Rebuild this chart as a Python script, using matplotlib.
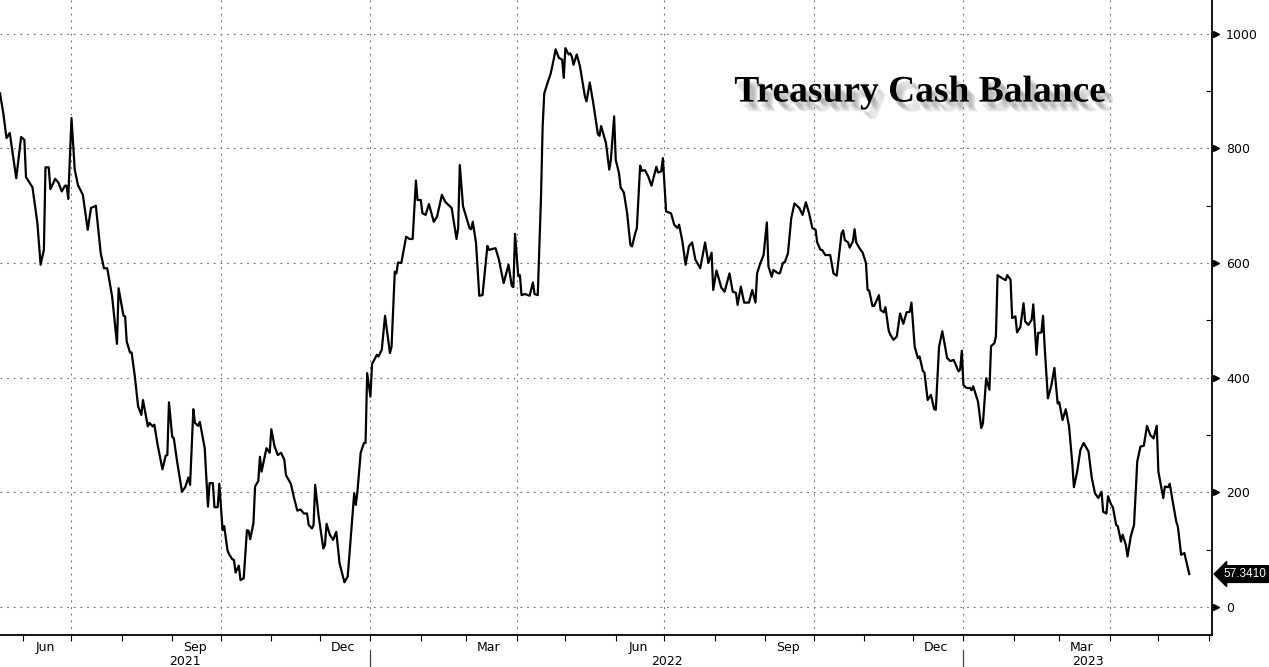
import numpy as np
import pandas as pd
import matplotlib
matplotlib.use("Agg")
import matplotlib.pyplot as plt
import matplotlib.dates as mdates
import matplotlib.patheffects as pe

### data: treasury cash balance (bn USD)
start = "2021-05-18"
days = [0, 2, 4, 6, 10, 13, 15, 16, 20, 23, 25, 27, 28, 30, 31, 34, 36, 38, 40, 41,
        42, 44, 46, 48, 51, 54, 56, 59, 62, 64, 66, 69, 72, 73, 76, 77, 78, 80, 81, 83,
        85, 87, 88, 91, 92, 94, 95, 97, 100, 102, 103, 104, 106, 107, 109, 112, 113, 114, 116, 117,
        119, 120, 122, 123, 126, 128, 129, 131, 132, 134, 135, 137, 138, 140, 141, 143, 144, 145, 147, 148,
        150, 152, 153, 154, 156, 157, 159, 160, 161, 164, 166, 167, 169, 171, 173, 175, 176, 179, 181, 183,
        185, 187, 189, 190, 192, 193, 194, 196, 199, 200, 201, 203, 205, 207, 209, 211, 212, 214, 215, 218,
        219, 220, 222, 224, 225, 226, 228, 229, 232, 233, 235, 237, 240, 241, 243, 244, 245, 247, 250, 252,
        254, 256, 257, 259, 260, 262, 264, 267, 269, 272, 274, 278, 281, 282, 283, 285, 289, 290, 291, 293,
        295, 297, 300, 301, 305, 307, 310, 313, 315, 316, 317, 319, 320, 321, 323, 326, 328, 329, 331, 333,
        334, 335, 337, 339, 341, 342, 344, 346, 347, 348, 350, 351, 352, 353, 355, 357, 360, 361, 363, 365,
        368, 369, 370, 373, 375, 376, 378, 379, 381, 382, 384, 386, 388, 389, 391, 392, 394, 395, 397, 399,
        401, 404, 405, 407, 408, 410, 413, 415, 417, 418, 420, 422, 424, 426, 428, 431, 434, 436, 438, 439,
        441, 444, 446, 449, 451, 453, 454, 456, 458, 461, 463, 465, 466, 468, 470, 472, 473, 475, 476, 479,
        480, 482, 483, 485, 487, 489, 492, 494, 496, 498, 500, 502, 503, 505, 506, 508, 511, 513, 515, 518,
        519, 520, 522, 523, 525, 526, 527, 529, 531, 533, 534, 535, 537, 538, 541, 542, 544, 545, 547, 548,
        550, 552, 554, 556, 558, 560, 561, 563, 565, 566, 568, 569, 571, 573, 575, 576, 578, 580, 583, 585,
        587, 590, 591, 592, 593, 595, 597, 598, 599, 602, 604, 605, 607, 609, 610, 612, 613, 614, 616, 619,
        620, 622, 623, 625, 626, 628, 630, 631, 633, 635, 636, 638, 639, 641, 642, 643, 645, 647, 649, 651,
        652, 654, 656, 658, 660, 661, 663, 665, 667, 670, 672, 674, 676, 678, 679, 681, 682, 684, 685, 687,
        688, 690, 691, 693, 694, 696, 698, 700, 702, 704, 706, 708, 710, 712, 713, 716, 717, 719, 720, 722,
        724, 725, 727, 729, 732]
balance = [896, 862, 818, 827, 748, 820, 815, 750, 732, 670, 597, 623, 767, 767, 729, 747, 740, 725, 735, 735,
           712, 853, 763, 736, 719, 658, 696, 700, 617, 591, 591, 542, 459, 556, 508, 507, 463, 444, 444, 402,
           350, 335, 361, 315, 321, 315, 318, 283, 240, 264, 265, 357, 297, 294, 254, 201, 205, 209, 226, 213,
           345, 321, 316, 323, 277, 175, 216, 216, 174, 174, 215, 134, 141, 99, 92, 83, 82, 60, 72, 47,
           50, 134, 133, 118, 146, 210, 220, 262, 236, 277, 269, 310, 280, 265, 269, 257, 230, 215, 190, 168,
           170, 163, 163, 143, 137, 143, 213, 161, 102, 108, 145, 126, 117, 131, 76, 54, 43, 53, 88, 198,
           178, 201, 269, 286, 286, 408, 367, 424, 440, 437, 449, 508, 443, 454, 585, 582, 601, 600, 646, 642,
           642, 744, 710, 710, 687, 684, 703, 672, 681, 719, 707, 696, 642, 661, 771, 699, 661, 659, 672, 635,
           543, 544, 630, 623, 626, 607, 565, 597, 560, 558, 651, 577, 579, 544, 546, 543, 566, 546, 544, 716,
           838, 896, 914, 931, 958, 973, 958, 955, 923, 975, 964, 966, 960, 946, 964, 943, 891, 882, 915, 882,
           825, 822, 839, 809, 763, 780, 856, 780, 757, 732, 723, 687, 632, 629, 652, 661, 770, 761, 762, 751,
           735, 768, 758, 760, 783, 690, 687, 667, 661, 667, 638, 597, 629, 636, 606, 591, 636, 600, 618, 553,
           587, 557, 550, 582, 550, 548, 527, 559, 531, 531, 553, 531, 582, 600, 614, 671, 594, 576, 588, 582,
           582, 601, 601, 617, 678, 704, 696, 684, 706, 687, 661, 658, 636, 623, 623, 614, 614, 582, 578, 652,
           657, 640, 636, 627, 638, 659, 636, 626, 618, 600, 553, 552, 525, 525, 544, 518, 514, 523, 482, 475,
           466, 472, 512, 494, 514, 515, 531, 454, 434, 437, 412, 409, 361, 370, 345, 344, 454, 481, 434, 429,
           431, 411, 414, 447, 387, 382, 382, 378, 385, 358, 312, 320, 399, 379, 455, 460, 472, 579, 575, 570,
           579, 571, 504, 507, 479, 488, 530, 498, 492, 501, 528, 440, 478, 479, 508, 454, 364, 385, 417, 355,
           357, 326, 345, 315, 251, 209, 236, 274, 286, 271, 225, 198, 190, 201, 166, 163, 193, 178, 174, 143,
           141, 114, 126, 108, 88, 123, 143, 254, 280, 281, 316, 300, 294, 316, 236, 190, 210, 209, 215, 181,
           149, 140, 91, 94, 57.341]

title = "Treasury Cash Balance"
month_labels = ["Jun", "Sep", "Dec", "Mar"]
years = ["2021", "2022", "2023"]
y_ticks = [0, 200, 400, 600, 800, 1000]

dates = pd.Timestamp(start) + pd.to_timedelta(days, unit="D")
x0 = pd.Timestamp(start)
x1 = pd.Timestamp("2023-06-03")

fig = plt.figure(figsize=(12.69, 6.67), dpi=100)
ax = fig.add_axes([0.0, 32 / 667, 1212 / 1269, 635 / 667])

ax.plot(dates, balance, color="black", lw=1.6)
ax.set_xlim(x0, x1)
ax.set_ylim(-49, 1059)

# spines
for s in ["left", "top"]:
    ax.spines[s].set_visible(False)
ax.spines["bottom"].set_linewidth(1.3)
ax.spines["right"].set_linewidth(1.3)

# y axis on the right
ax.yaxis.tick_right()
ax.set_yticks(y_ticks)
ax.set_yticklabels([str(v) for v in y_ticks])
ax.tick_params(axis="y", which="major", length=0, pad=10, labelsize=9)
ax.set_yticks(np.arange(100, 1000, 200), minor=True)
ax.tick_params(axis="y", which="minor", direction="in", length=4, width=0.8)
ax.grid(axis="y", which="major", color="#666666", ls=(0, (1.5, 4.5)), lw=0.8)
# triangle markers on the major ticks
ax.plot([1.0 + 4 / 1212] * len(y_ticks), y_ticks, marker=">", ms=5, color="black",
        ls="none", transform=ax.get_yaxis_transform(), clip_on=False)

# x axis: month ticks, mid-month labels, quarter grid
ax.xaxis.set_minor_locator(mdates.MonthLocator())
ax.tick_params(axis="x", which="minor", direction="out", length=4, width=0.8)
lab_dates = [d + pd.Timedelta(days=14) for d in pd.date_range("2021-06-01", "2023-05-01", freq="MS")
             if d.strftime("%b") in month_labels]
ax.set_xticks(lab_dates)
ax.set_xticklabels([d.strftime("%b") for d in lab_dates])
ax.tick_params(axis="x", which="major", length=0, pad=4, labelsize=9)
for q in pd.date_range("2021-07-01", "2023-04-01", freq="QS"):
    ax.axvline(q, color="#666666", ls=(0, (1.5, 4.5)), lw=0.8, zorder=0)

# year labels and separators
tr = ax.get_xaxis_transform()
bounds = [x0, pd.Timestamp("2022-01-01"), pd.Timestamp("2023-01-01"), x1]
for i, yr in enumerate(years):
    a, b = bounds[i], bounds[i + 1]
    ax.text(a + (b - a) / 2, -0.042, yr, transform=tr, ha="center", va="center", fontsize=9)
for sep in bounds[1:3]:
    ax.plot([sep, sep], [-0.024, -0.06], color="#444444", lw=0.9, transform=tr, clip_on=False)

# last value tag
ax.annotate(f"{balance[-1]:.4f}", xy=(1.0, balance[-1]), xycoords=("axes fraction", "data"),
            xytext=(8, 0), textcoords="offset points", ha="left", va="center",
            fontsize=8.5, color="white", family=["Liberation Sans", "DejaVu Sans"],
            bbox=dict(boxstyle="larrow,pad=0.2", fc="black", ec="black"), annotation_clip=False)

# title with drop shadow
shadow = [pe.SimplePatchShadow(offset=(o, -o - 1), shadow_rgbFace="#888888", alpha=0.18) for o in (2, 3, 4, 5, 6)]
ax.text(0.759, 0.855, title, transform=ax.transAxes, ha="center", va="center",
        fontsize=27, fontweight="bold", family=["Liberation Serif", "DejaVu Serif"],
        path_effects=shadow + [pe.Normal()])

fig.savefig("out.png", dpi=100)
